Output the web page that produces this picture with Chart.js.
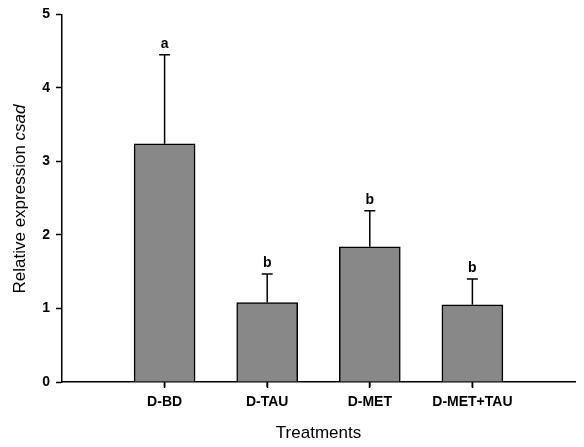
<!DOCTYPE html>
<html>
<head>
<meta charset="utf-8">
<script src="https://cdn.jsdelivr.net/npm/chart.js@4"></script>
<style>
  html, body { margin: 0; padding: 0; background: #fff; }
  #wrap { width: 584px; height: 447px; }
</style>
</head>
<body>
<div id="wrap"><canvas id="chart"></canvas></div>
<script>
// 처리군별 상대 발현량
const treatments = ["D-BD", "D-TAU", "D-MET", "D-MET+TAU"];
const expression = [3.24, 1.08, 1.84, 1.05];
const errorUp = [1.21, 0.39, 0.49, 0.35];
const letters = ["a", "b", "b", "b"];
const yTicks = [0, 1, 2, 3, 4, 5];

const FONT = "'Liberation Sans', Arial, sans-serif";

// 오차 막대 + 유의성 문자 + x축 눈금 그리기
const errorBarPlugin = {
  id: "errorBars",
  afterDatasetsDraw(chart) {
    const { ctx, scales } = chart;
    const x = scales.x, y = scales.y;
    ctx.save();
    ctx.strokeStyle = "#000";
    ctx.lineWidth = 1.5;
    expression.forEach((v, i) => {
      const px = x.getPixelForValue(i + 1);
      const top = y.getPixelForValue(v + errorUp[i]);
      const base = y.getPixelForValue(v);
      ctx.beginPath();
      ctx.moveTo(px, base);
      ctx.lineTo(px, top);
      ctx.moveTo(px - 5.5, top);
      ctx.lineTo(px + 5.5, top);
      // x축 눈금
      ctx.moveTo(px, y.bottom);
      ctx.lineTo(px, y.bottom + 5);
      ctx.stroke();
      ctx.fillStyle = "#000";
      ctx.font = "bold 14px " + FONT;
      ctx.textAlign = "center";
      ctx.textBaseline = "alphabetic";
      ctx.fillText(letters[i], px, top - 7);
    });
    ctx.restore();
  },
};

// 축 제목 (csad 는 이탤릭)
const titlePlugin = {
  id: "axisTitles",
  afterDraw(chart) {
    const { ctx, chartArea } = chart;
    ctx.save();
    ctx.fillStyle = "#000";
    ctx.textBaseline = "middle";
    ctx.textAlign = "center";
    ctx.font = "17px " + FONT;
    ctx.fillText("Treatments", (chartArea.left + chartArea.right) / 2, 433);

    const part1 = "Relative expression ";
    const part2 = "csad";
    ctx.font = "17px " + FONT;
    const w1 = ctx.measureText(part1).width;
    ctx.font = "italic 17px " + FONT;
    const w2 = ctx.measureText(part2).width;
    ctx.translate(20, 199);
    ctx.rotate(-Math.PI / 2);
    ctx.textAlign = "left";
    const start = -(w1 + w2) / 2;
    ctx.font = "17px " + FONT;
    ctx.fillText(part1, start, 0);
    ctx.font = "italic 17px " + FONT;
    ctx.fillText(part2, start + w1, 0);
    ctx.restore();
  },
};

const ctx = document.getElementById("chart").getContext("2d");

new Chart(ctx, {
  type: "bar",
  data: {
    datasets: [
      {
        label: "expression",
        data: expression.map((v, i) => ({ x: i + 1, y: v })),
        backgroundColor: "rgb(136, 136, 136)",
        borderColor: "#000",
        borderWidth: 1.5,
        barThickness: 61,
      },
    ],
  },
  options: {
    responsive: true,
    maintainAspectRatio: false,
    animation: false,
    layout: { padding: { top: 14, right: 9, left: 0, bottom: 0 } },
    plugins: { legend: { display: false }, tooltip: { enabled: false } },
    scales: {
      x: {
        type: "linear",
        offset: false,
        min: 0,
        max: 5,
        afterBuildTicks: (scale) => {
          scale.ticks = treatments.map((t, i) => ({ value: i + 1 }));
        },
        afterFit: (scale) => {
          scale.height = 65;
        },
        ticks: {
          callback: (v) => treatments[v - 1] || "",
          color: "#000",
          font: { family: FONT, size: 14, weight: "bold" },
          padding: 6,
          maxRotation: 0,
          autoSkip: false,
        },
        grid: {
          offset: false,
          drawOnChartArea: false,
          tickLength: 6,
          tickWidth: 1.5,
          tickColor: "#000",
        },
        border: { color: "#000", width: 1.5 },
      },
      y: {
        min: 0,
        max: 5,
        afterBuildTicks: (scale) => {
          scale.ticks = yTicks.map((v) => ({ value: v }));
        },
        afterFit: (scale) => {
          scale.width = 62;
        },
        ticks: {
          color: "#000",
          font: { family: FONT, size: 14, weight: "bold" },
          padding: 6,
        },
        grid: {
          drawOnChartArea: false,
          tickLength: 6,
          tickWidth: 1.5,
          tickColor: "#000",
        },
        border: { color: "#000", width: 1.5 },
      },
    },
  },
  plugins: [errorBarPlugin, titlePlugin],
});
</script>
</body>
</html>
